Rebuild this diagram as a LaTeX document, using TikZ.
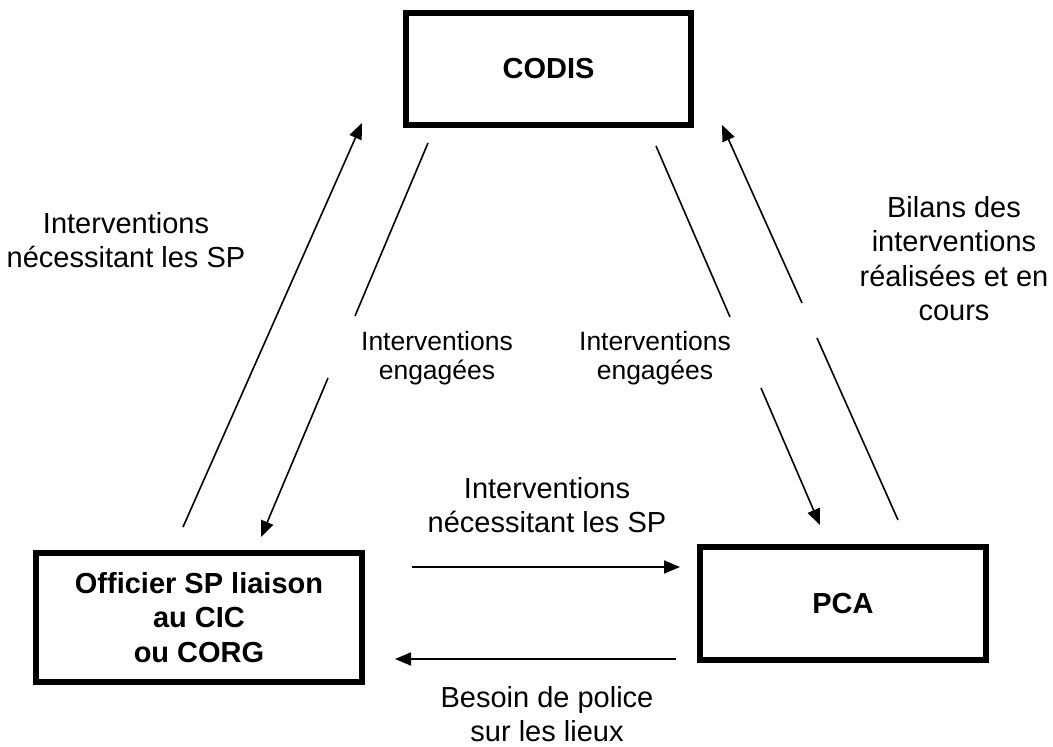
\documentclass[tikz,border=0pt]{standalone}
\usepackage{fontspec}
\setmainfont{Liberation Sans}
\usetikzlibrary{arrows.meta}
\begin{document}
\begin{tikzpicture}[x=1pt,y=-1pt]
     \tikzstyle{boite}=[draw, line width=6pt, align=center, font=\bfseries\fontsize{29}{34.5}\selectfont]
     \tikzstyle{texte}=[align=center, font=\fontsize{29}{34.5}\selectfont]
     \tikzstyle{petit}=[align=center, font=\fontsize{26.5}{29}\selectfont]
     \tikzstyle{fleche}=[line width=1.6pt, -{Triangle[length=16pt,width=13pt]}]
     \useasboundingbox (0,0) rectangle (1053,747);
     % les trois boites
     \node[boite, minimum width=285pt, minimum height=112pt] (codis) at (548.5,69) {CODIS};
     \node[boite, minimum width=326pt, minimum height=129pt] (officier) at (199,617.5) {Officier SP liaison\\au CIC\\ou CORG};
     \node[boite, minimum width=286pt, minimum height=113pt] (pca) at (843,603.5) {PCA};
     % extremites des fleches
     \coordinate (a1) at (183,527);  \coordinate (a2) at (362,123);
     \coordinate (b1) at (428,143);  \coordinate (b2) at (355,316);
     \coordinate (b3) at (328,378);  \coordinate (b4) at (261,537);
     \coordinate (c1) at (656,146);  \coordinate (c2) at (730,317);
     \coordinate (c3) at (761,388);  \coordinate (c4) at (820,525);
     \coordinate (d1) at (898,520);  \coordinate (d2) at (817,338);
     \coordinate (d3) at (802,303);  \coordinate (d4) at (722,125);
     \coordinate (e1) at (412,567);  \coordinate (e2) at (680,567);
     \coordinate (f1) at (676,659);  \coordinate (f2) at (395,659);
     \draw[fleche] (a1) -- (a2);
     \draw[line width=1.6pt] (b1) -- (b2);
     \draw[fleche] (b3) -- (b4);
     \draw[line width=1.6pt] (c1) -- (c2);
     \draw[fleche] (c3) -- (c4);
     \draw[line width=1.6pt] (d1) -- (d2);
     \draw[fleche] (d3) -- (d4);
     \draw[fleche] (e1) -- (e2);
     \draw[fleche] (f1) -- (f2);
     % les textes
     \node[texte] (besoinsp) at (126,240) {Interventions\\nécessitant les SP};
     \node[petit] (engageesg) at (437,358) {Interventions\\engagées};
     \node[petit] (engageesd) at (655,358) {Interventions\\engagées};
     \node[texte] (bilans) at (954,258.5) {Bilans des\\interventions\\réalisées et en\\cours};
     \node[texte] (demandesp) at (547,505) {Interventions\\nécessitant les SP};
     \node[texte] (police) at (547,714) {Besoin de police\\sur les lieux};
\end{tikzpicture}
\end{document}
